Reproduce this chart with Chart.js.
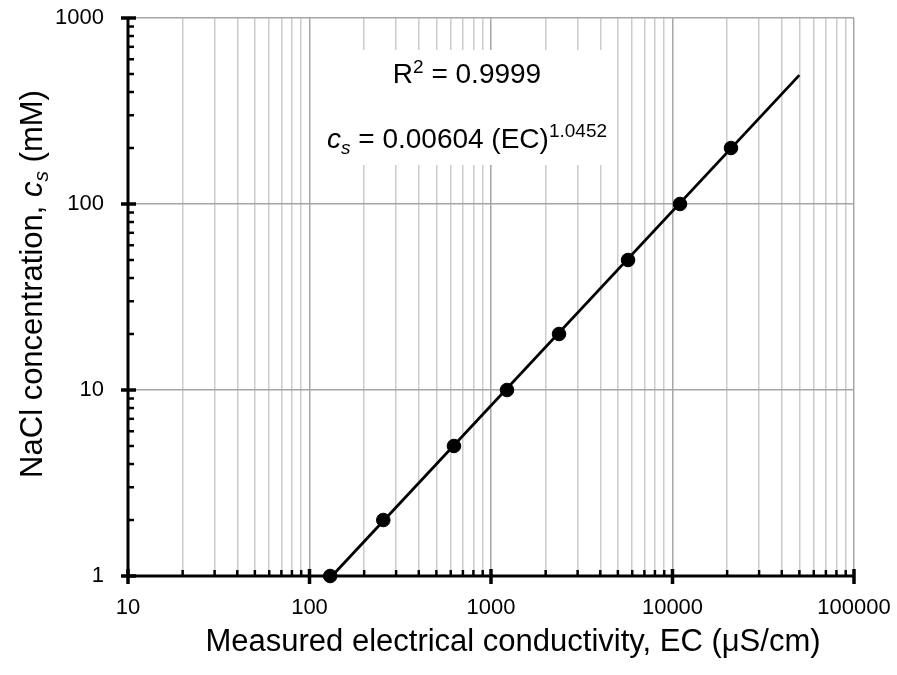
<!DOCTYPE html>
<html>
<head>
<meta charset="utf-8">
<script src="https://cdn.jsdelivr.net/npm/chart.js@4.4.1/dist/chart.umd.min.js"></script>
<style>
  html, body { margin: 0; padding: 0; background: #fff; }
  #wrap { width: 897px; height: 675px; }
</style>
</head>
<body>
<div id="wrap"><canvas id="chart" width="897" height="675"></canvas></div>
<script>
// measured NaCl standards
const ecValues = [130, 255, 625, 1225, 2370, 5690, 11000, 21000];
const naclValues = [1, 2, 5, 10, 20, 50, 100, 200];
// power-law fit, drawn between its two end points
const fitEc = [133, 50000];
const fitNacl = [1, 493];
// decade tick labels
const xDecades = [10, 100, 1000, 10000, 100000];
const yDecades = [1, 10, 100, 1000];

const FONT = "'Liberation Sans', Arial, sans-serif";

function logTicks(decades) {
  const ticks = [];
  decades.forEach((d, i) => {
    if (i === decades.length - 1) { ticks.push({ value: d }); return; }
    for (let m = 1; m <= 9; m++) ticks.push({ value: d * m });
  });
  return ticks;
}
function isDecade(v) {
  const l = Math.log10(v);
  return Math.abs(l - Math.round(l)) < 1e-9;
}

// draw a line of mixed-font text centred on cx
function drawRuns(ctx, runs, cx, baseline) {
  let total = 0;
  runs.forEach(r => { ctx.font = r.font; r.w = ctx.measureText(r.text).width; total += r.w; });
  let x = cx - total / 2;
  ctx.textAlign = 'left';
  ctx.textBaseline = 'alphabetic';
  runs.forEach(r => {
    ctx.font = r.font;
    ctx.fillText(r.text, x, baseline + (r.dy || 0));
    x += r.w;
  });
}

const overlay = {
  id: 'overlay',
  beforeDatasetsDraw(chart) {
    const ctx = chart.ctx;
    const xs = chart.scales.x, ys = chart.scales.y;
    const a = chart.chartArea;
    ctx.save();

    // equation box
    ctx.fillStyle = '#fff';
    ctx.fillRect(320, 50, 292, 115);
    ctx.fillStyle = '#000';
    drawRuns(ctx, [
      { text: 'R', font: '28px ' + FONT },
      { text: '2', font: '19px ' + FONT, dy: -10 },
      { text: ' = 0.9999', font: '28px ' + FONT }
    ], 467, 83);
    drawRuns(ctx, [
      { text: 'c', font: 'italic 28px ' + FONT },
      { text: 's', font: 'italic 19px ' + FONT, dy: 6 },
      { text: ' = 0.00604 (EC)', font: '28px ' + FONT },
      { text: '1.0452', font: '19px ' + FONT, dy: -11 }
    ], 467, 148);

    // axis lines
    ctx.strokeStyle = '#000';
    ctx.lineWidth = 3;
    ctx.lineCap = 'butt';
    ctx.beginPath();
    ctx.moveTo(a.left, a.top);
    ctx.lineTo(a.left, a.bottom);
    ctx.lineTo(a.right, a.bottom);
    ctx.stroke();

    // x ticks
    xs.ticks.forEach(t => {
      const px = xs.getPixelForValue(t.value);
      ctx.beginPath();
      if (isDecade(t.value)) { ctx.lineWidth = 3.5; ctx.moveTo(px, a.bottom - 7); ctx.lineTo(px, a.bottom + 8); }
      else { ctx.lineWidth = 2.5; ctx.moveTo(px, a.bottom - 6); ctx.lineTo(px, a.bottom); }
      ctx.stroke();
    });
    // y ticks
    ys.ticks.forEach(t => {
      const py = ys.getPixelForValue(t.value);
      ctx.beginPath();
      if (isDecade(t.value)) { ctx.lineWidth = 3.5; ctx.moveTo(a.left - 7, py); ctx.lineTo(a.left + 8, py); }
      else { ctx.lineWidth = 2.5; ctx.moveTo(a.left, py); ctx.lineTo(a.left + 6, py); }
      ctx.stroke();
    });
    ctx.restore();
  },
  afterDraw(chart) {
    const ctx = chart.ctx;
    ctx.save();
    ctx.fillStyle = '#000';
    drawRuns(ctx, [
      { text: 'Measured electrical conductivity, EC (\u03bcS/cm)', font: '31px ' + FONT }
    ], 513, 651);
    ctx.translate(42, 284);
    ctx.rotate(-Math.PI / 2);
    drawRuns(ctx, [
      { text: 'NaCl concentration, ', font: '31px ' + FONT },
      { text: 'c', font: 'italic 31px ' + FONT },
      { text: 's', font: 'italic 21px ' + FONT, dy: 6 },
      { text: ' (mM)', font: '31px ' + FONT }
    ], 0, 0);
    ctx.restore();
  }
};

new Chart(document.getElementById('chart'), {
  type: 'scatter',
  data: {
    datasets: [
      {
        label: 'Fit',
        data: fitEc.map((x, i) => ({ x: x, y: fitNacl[i] })),
        showLine: true,
        borderColor: '#000',
        borderWidth: 2.8,
        pointRadius: 0,
        clip: false
      },
      {
        label: 'Standards',
        data: ecValues.map((x, i) => ({ x: x, y: naclValues[i] })),
        showLine: false,
        backgroundColor: '#000',
        borderColor: '#000',
        pointRadius: 6.8,
        pointHoverRadius: 6.8,
        clip: false
      }
    ]
  },
  options: {
    responsive: false,
    animation: false,
    devicePixelRatio: 1,
    layout: { padding: { left: 0, top: 18, right: 43, bottom: 0 } },
    plugins: { legend: { display: false }, tooltip: { enabled: false } },
    scales: {
      x: {
        type: 'logarithmic',
        min: 10,
        max: 100000,
        afterBuildTicks: s => { s.ticks = logTicks(xDecades); },
        afterFit: s => { s.height = 99; s.paddingLeft = 0; s.paddingRight = 0; },
        border: { display: false },
        grid: {
          drawTicks: false,
          lineWidth: 1.5,
          color: c => (c.tick && isDecade(c.tick.value)) ? '#a6a6a6' : '#cccccc'
        },
        ticks: {
          autoSkip: false,
          maxRotation: 0,
          padding: 19,
          color: '#000',
          font: { family: FONT, size: 22 },
          callback: v => isDecade(v) ? String(v) : ''
        }
      },
      y: {
        type: 'logarithmic',
        min: 1,
        max: 1000,
        afterBuildTicks: s => { s.ticks = logTicks(yDecades); },
        afterFit: s => { s.width = 128; s.paddingTop = 0; s.paddingBottom = 0; },
        border: { display: false },
        grid: {
          drawTicks: false,
          lineWidth: 1.5,
          color: c => (c.tick && isDecade(c.tick.value)) ? '#a6a6a6' : 'rgba(0,0,0,0)'
        },
        ticks: {
          autoSkip: false,
          padding: 24,
          color: '#000',
          font: { family: FONT, size: 22 },
          callback: v => isDecade(v) ? String(v) : ''
        }
      }
    }
  },
  plugins: [overlay]
});
</script>
</body>
</html>
